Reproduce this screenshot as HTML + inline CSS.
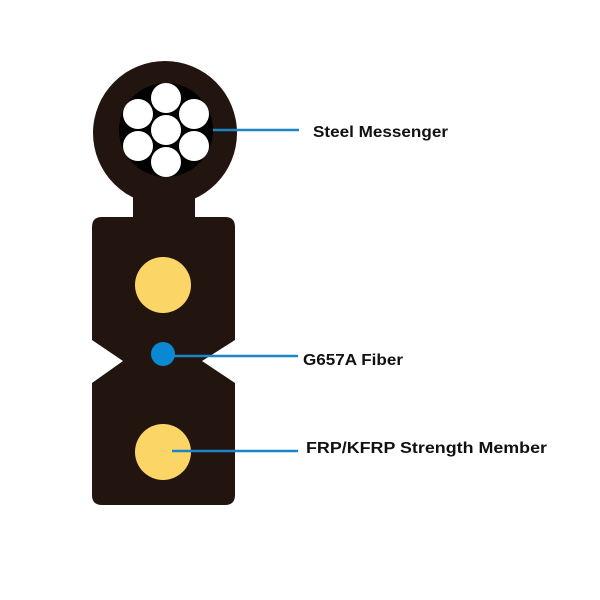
<!DOCTYPE html>
<html><head><style>body{margin:0;background:#fff}svg{display:block}</style></head>
<body>
<svg width="600" height="600" viewBox="0 0 600 600" xmlns="http://www.w3.org/2000/svg">
<rect width="600" height="600" fill="#fff"/>
<g fill="#22140f">
<circle cx="165" cy="133" r="72"/>
<rect x="133" y="180" width="62" height="45"/>
<path d="M102 217 H225 Q235 217 235 227 V340 L202 361 L235 383 V495 Q235 505 225 505 H102 Q92 505 92 495 V383 L123 361 L92 340 V227 Q92 217 102 217 Z"/>
</g>
<circle cx="166" cy="130" r="47" fill="#000"/>
<g fill="#fff">
<circle cx="166" cy="130" r="15"/>
<circle cx="166" cy="98" r="15"/>
<circle cx="166" cy="162" r="15"/>
<circle cx="138" cy="114" r="15"/>
<circle cx="194" cy="114" r="15"/>
<circle cx="138" cy="146" r="15"/>
<circle cx="194" cy="146" r="15"/>
</g>
<circle cx="163" cy="285" r="28" fill="#fbd667"/>
<circle cx="163" cy="452" r="28" fill="#fbd667"/>
<circle cx="163" cy="354" r="12" fill="#0a89d2"/>
<g stroke="#1a86c8" stroke-width="2.5">
<line x1="213" y1="130" x2="299" y2="130"/>
<line x1="172" y1="356" x2="298" y2="356"/>
<line x1="172" y1="451" x2="298" y2="451"/>
</g>
<g font-family="Liberation Sans, sans-serif" font-weight="bold" font-size="16" fill="#111">
<text x="313" y="137" textLength="135" lengthAdjust="spacingAndGlyphs">Steel Messenger</text>
<text x="303" y="365" textLength="100" lengthAdjust="spacingAndGlyphs">G657A Fiber</text>
<text x="306" y="453" textLength="241" lengthAdjust="spacingAndGlyphs">FRP/KFRP Strength Member</text>
</g>
</svg>
</body></html>
